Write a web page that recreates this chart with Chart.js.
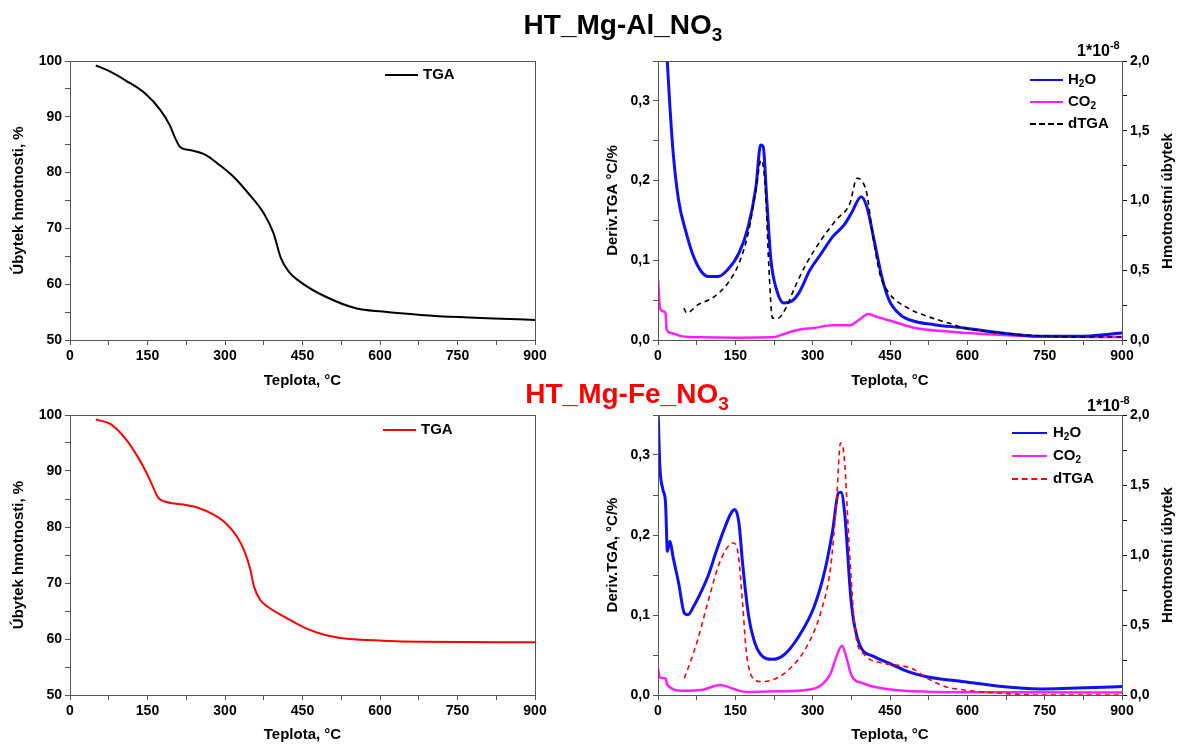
<!DOCTYPE html>
<html>
<head>
<meta charset="utf-8">
<script src="https://cdn.jsdelivr.net/npm/chart.js@4.4.0/dist/chart.umd.min.js"></script>
<style>
  body { margin: 0; background: #fff; width: 1178px; height: 744px; position: relative; overflow: hidden;
         font-family: "Liberation Sans", Arial, sans-serif; color: #000; }
  .pane { position: absolute; }
  .title { position: absolute; font-weight: bold; font-size: 28px; white-space: nowrap; transform: translate(-50%, -50%); z-index: 2; }
  .title sub { font-size: 19px; vertical-align: -7px; }
  .leg { position: absolute; font-weight: bold; font-size: 15px; white-space: nowrap; z-index: 2; }
  .leg .row { position: absolute; left: 0; height: 22px; width: 120px; }
  .leg .ln { position: absolute; top: 10px; height: 0; }
  .leg .tx { position: absolute; top: 1px; }
  .leg sub { font-size: 10px; vertical-align: -3px; }
  .mult { position: absolute; font-weight: bold; font-size: 16px; white-space: nowrap; z-index: 2; }
  .mult sup { font-size: 11px; vertical-align: 7px; }
  .rtitle { position: absolute; font-weight: bold; font-size: 15px; white-space: nowrap; z-index: 2;
            transform: translate(-50%, -50%) rotate(-90deg); }
</style>
</head>
<body>

<div class="title" style="left:623px; top:27px;">HT_Mg-Al_NO<sub>3</sub></div>
<div class="title" style="left:627px; top:396px; color:#ff0000;">HT_Mg-Fe_NO<sub>3</sub></div>
<div class="mult" style="left:1077px; top:39px;">1*10<sup>-8</sup></div>
<div class="mult" style="left:1087px; top:394px;">1*10<sup>-8</sup></div>
<div class="rtitle" style="left:1166px; top:201px;">Hmotnostní úbytek</div>
<div class="rtitle" style="left:1166px; top:555px;">Hmotnostní úbytek</div>

<div class="pane" style="left:0; top:40px;"><canvas id="tgaAl" width="590" height="350"></canvas></div>
<div class="pane" style="left:590px; top:40px;"><canvas id="msAl" width="588" height="350"></canvas></div>
<div class="pane" style="left:0; top:394px;"><canvas id="tgaFe" width="590" height="350"></canvas></div>
<div class="pane" style="left:590px; top:394px;"><canvas id="msFe" width="588" height="350"></canvas></div>

<div class="leg" id="legTgaAl" style="left:385px; top:64px;"></div>
<div class="leg" id="legMsAl" style="left:1030px; top:69px;"></div>
<div class="leg" id="legTgaFe" style="left:383px; top:419px;"></div>
<div class="leg" id="legMsFe" style="left:1012px; top:422px;"></div>

<script>
// ---- Mg-Al : TGA mass curve (%)
const tAlTga = [50, 78, 108, 145, 175, 193, 204, 213, 234, 264, 286, 316, 345, 375, 394, 408, 423, 449, 494, 553, 605, 679, 754, 900];
const mAlTga = [99.2, 98.1, 96.5, 94.2, 91.2, 88.5, 86.1, 84.6, 84.0, 83.1, 81.6, 79.3, 76.3, 72.7, 69.1, 64.7, 62.3, 60.2, 57.8, 55.7, 55.1, 54.5, 54.1, 53.6];

// ---- Mg-Al : MS signals (1e-8) and dTGA (°C/%)
const tAlH2O = [15, 18, 22, 29, 40, 55, 69, 84, 98, 117, 135, 157, 175, 190, 199, 204, 211, 219, 230, 244, 259, 273, 295, 317, 339, 361, 375, 394, 405, 419, 434, 448, 470, 499, 536, 594, 667, 740, 813, 900];
const vAlH2O = [2.2, 2.0, 1.74, 1.36, 1.0, 0.765, 0.598, 0.491, 0.455, 0.455, 0.503, 0.622, 0.813, 1.099, 1.397, 1.385, 1.004, 0.574, 0.36, 0.265, 0.277, 0.336, 0.503, 0.622, 0.741, 0.825, 0.908, 1.027, 0.956, 0.718, 0.455, 0.288, 0.181, 0.133, 0.11, 0.086, 0.05, 0.026, 0.026, 0.05];
const tAlCO2 = [0.5, 3.6, 11, 14.6, 16.8, 25.5, 47, 84, 157, 222, 244, 273, 302, 339, 372, 390, 408, 426, 456, 499, 558, 630, 740, 900];
const vAlCO2 = [0.43, 0.229, 0.205, 0.193, 0.074, 0.05, 0.026, 0.019, 0.017, 0.019, 0.043, 0.074, 0.086, 0.105, 0.105, 0.145, 0.186, 0.164, 0.133, 0.086, 0.062, 0.043, 0.026, 0.021];
const tAlDtg = [50, 56, 77, 106, 135, 157, 175, 190, 200, 208, 215, 222, 233, 248, 266, 288, 317, 346, 372, 386, 396, 405, 416, 430, 448, 485, 521, 565, 594, 667, 740, 813, 900];
const vAlDtg = [0.040, 0.034, 0.044, 0.053, 0.071, 0.096, 0.134, 0.188, 0.226, 0.192, 0.092, 0.0275, 0.0275, 0.040, 0.067, 0.096, 0.126, 0.151, 0.171, 0.203, 0.199, 0.184, 0.134, 0.084, 0.059, 0.040, 0.030, 0.021, 0.015, 0.0088, 0.0054, 0.0038, 0.0038];

// ---- Mg-Fe : TGA mass curve (%)
const tFeTga = [50, 78, 108, 130, 148, 160, 171, 182, 219, 249, 278, 301, 323, 338, 349, 356, 368, 382, 420, 457, 494, 531, 605, 679, 900];
const mFeTga = [99.2, 98.4, 95.7, 92.7, 89.7, 87.3, 85.2, 84.6, 84.0, 83.4, 82.2, 80.7, 78.3, 75.6, 72.4, 69.4, 67.0, 65.8, 63.7, 61.9, 60.7, 60.1, 59.7, 59.5, 59.4];

// ---- Mg-Fe : MS signals (1e-8) and dTGA (°C/%)
const tFeH2O = [0, 3.6, 9.5, 14.6, 18.2, 23.3, 29, 40, 51, 58, 69, 84, 98, 113, 128, 142, 149, 157, 164, 175, 186, 200, 222, 244, 273, 303, 324, 339, 350, 355, 362, 375, 390, 419, 448, 485, 521, 594, 667, 740, 900];
const vFeH2O = [2.05, 1.635, 1.468, 1.372, 1.026, 1.098, 0.99, 0.8, 0.585, 0.573, 0.632, 0.74, 0.859, 1.026, 1.181, 1.301, 1.325, 1.229, 0.943, 0.585, 0.394, 0.286, 0.255, 0.286, 0.418, 0.632, 0.895, 1.181, 1.444, 1.449, 1.301, 0.656, 0.37, 0.274, 0.227, 0.167, 0.131, 0.095, 0.06, 0.043, 0.06];
const tFeCO2 = [0, 3.6, 14.6, 18, 47, 84, 120, 149, 171, 230, 288, 317, 335, 346, 357, 365, 375, 397, 448, 521, 667, 900];
const vFeCO2 = [0.191, 0.126, 0.119, 0.072, 0.031, 0.036, 0.072, 0.041, 0.021, 0.026, 0.036, 0.072, 0.155, 0.274, 0.351, 0.274, 0.143, 0.084, 0.041, 0.024, 0.019, 0.017];
const tFeDtg = [51, 62, 77, 98, 117, 131, 146, 155, 164, 171, 182, 200, 230, 259, 288, 317, 335, 346, 354, 361, 372, 383, 401, 434, 463, 493, 522, 558, 594, 667, 740, 900];
const vFeDtg = [0.021, 0.040, 0.069, 0.119, 0.161, 0.181, 0.190, 0.179, 0.115, 0.056, 0.023, 0.0167, 0.021, 0.035, 0.060, 0.106, 0.161, 0.240, 0.315, 0.298, 0.173, 0.077, 0.050, 0.040, 0.0375, 0.033, 0.021, 0.0104, 0.0063, 0.0021, 0, 0];

const FONT = '"Liberation Sans", Arial, sans-serif';
const tickFont = { family: FONT, size: 14, weight: 'bold' };
const axisFont = { family: FONT, size: 15, weight: 'bold' };
const AXIS = '#555';

const pts = (xs, ys) => xs.map((x, i) => ({ x: x, y: ys[i] }));
const comma = v => v.toFixed(1).replace('.', ',');

// frame round the plot area (top + right edges)
const framePlugin = {
  id: 'frame',
  afterDraw(chart) {
    const a = chart.chartArea, c = chart.ctx;
    c.save();
    c.strokeStyle = AXIS;
    c.lineWidth = 1;
    c.strokeRect(a.left + 0.5, a.top + 0.5, a.right - a.left, a.bottom - a.top);
    c.restore();
  }
};

function xScale(h) {
  return {
    type: 'linear', min: 0, max: 900,
    ticks: { stepSize: 75, autoSkip: false, maxRotation: 0, color: '#000', font: tickFont, padding: 3,
             callback: v => (v % 150 === 0 ? v : '') },
    grid: { drawOnChartArea: false, tickLength: 5, tickColor: AXIS },
    border: { color: AXIS },
    title: { display: true, text: 'Teplota, °C', color: '#000', font: axisFont, padding: { top: 2, bottom: 0 } },
    afterFit: s => { s.height = h; }
  };
}

function tgaChart(id, temps, mass, color, xh) {
  return new Chart(document.getElementById(id), {
    type: 'line',
    data: { datasets: [{ label: 'TGA', data: pts(temps, mass), borderColor: color, borderWidth: 2,
                         pointRadius: 0, cubicInterpolationMode: 'monotone' }] },
    options: {
      responsive: false, animation: false, parsing: false,
      layout: { padding: { top: 21, right: 55, left: 0, bottom: 0 } },
      plugins: { legend: { display: false }, tooltip: { enabled: false } },
      scales: {
        x: xScale(xh),
        y: {
          min: 50, max: 100,
          ticks: { stepSize: 5, color: '#000', font: tickFont, padding: 3,
                   callback: v => (v % 10 === 0 ? v : '') },
          grid: { drawOnChartArea: false, tickLength: 5, tickColor: AXIS },
          border: { color: AXIS },
          title: { display: true, text: 'Úbytek hmotnosti, %', color: '#000', font: axisFont, padding: { top: 10, bottom: 0 } },
          afterFit: s => { s.width = 70; }
        }
      }
    },
    plugins: [framePlugin]
  });
}

function msChart(id, h2o, co2, dtg, dtgColor, yTitle, xh) {
  return new Chart(document.getElementById(id), {
    type: 'line',
    data: {
      datasets: [
        { label: 'dTGA', data: dtg, yAxisID: 'y', borderColor: dtgColor, borderWidth: 1.6, borderDash: [5, 4],
          pointRadius: 0, cubicInterpolationMode: 'monotone', order: 0 },
        { label: 'H2O', data: h2o, yAxisID: 'y2', borderColor: '#1010f0', borderWidth: 3,
          pointRadius: 0, cubicInterpolationMode: 'monotone', order: 1 },
        { label: 'CO2', data: co2, yAxisID: 'y2', borderColor: '#ff20ff', borderWidth: 2.5,
          pointRadius: 0, cubicInterpolationMode: 'monotone', order: 2 }
      ]
    },
    options: {
      responsive: false, animation: false, parsing: false,
      layout: { padding: { top: 21, right: 0, left: 0, bottom: 0 } },
      plugins: { legend: { display: false }, tooltip: { enabled: false } },
      scales: {
        x: xScale(xh),
        y: {
          position: 'left', min: 0, max: 0.35,
          ticks: { stepSize: 0.05, color: '#000', font: tickFont, padding: 3,
                   callback: v => (Math.round(v * 20) % 2 === 0 ? comma(v) : '') },
          grid: { drawOnChartArea: false, tickLength: 5, tickColor: AXIS },
          border: { color: '#000' },
          title: { display: true, text: yTitle, color: '#000', font: axisFont, padding: { top: 14, bottom: 0 } },
          afterFit: s => { s.width = 68; }
        },
        // right axis title is drawn as an upright-reading label outside the canvas
        y2: {
          position: 'right', min: 0, max: 2,
          ticks: { stepSize: 0.25, color: '#000', font: tickFont, padding: 3,
                   callback: v => (Math.round(v * 4) % 2 === 0 ? comma(v) : '') },
          grid: { drawOnChartArea: false, tickLength: 5, tickColor: '#000' },
          border: { color: '#000' },
          title: { display: false },
          afterFit: s => { s.width = 56; }
        }
      }
    },
    plugins: [framePlugin]
  });
}

// legend boxes built from the chart datasets
const legendNames = { 'TGA': 'TGA', 'H2O': 'H<sub>2</sub>O', 'CO2': 'CO<sub>2</sub>', 'dTGA': 'dTGA' };
function buildLegend(elId, chart, order, lineW, gap, rowH) {
  const el = document.getElementById(elId);
  order.forEach((name, i) => {
    const ds = chart.data.datasets.find(d => d.label === name);
    const row = document.createElement('div');
    row.className = 'row';
    row.style.top = (i * rowH) + 'px';
    const style = ds.borderDash ? 'dashed' : 'solid';
    row.innerHTML = '<div class="ln" style="width:' + lineW + 'px;border-top:2px ' + style + ' ' + ds.borderColor + '"></div>' +
                    '<div class="tx" style="left:' + (lineW + gap) + 'px">' + legendNames[name] + '</div>';
    el.appendChild(row);
  });
}

const c1 = tgaChart('tgaAl', tAlTga, mAlTga, '#000000', 50);
const c2 = msChart('msAl', pts(tAlH2O, vAlH2O), pts(tAlCO2, vAlCO2), pts(tAlDtg, vAlDtg), '#000000', 'Deriv.TGA °C/%', 50);
const c3 = tgaChart('tgaFe', tFeTga, mFeTga, '#ff0000', 49);
const c4 = msChart('msFe', pts(tFeH2O, vFeH2O), pts(tFeCO2, vFeCO2), pts(tFeDtg, vFeDtg), '#ff0000', 'Deriv.TGA, °C/%', 49);

buildLegend('legTgaAl', c1, ['TGA'], 33, 5, 22);
buildLegend('legMsAl', c2, ['H2O', 'CO2', 'dTGA'], 33, 5, 22);
buildLegend('legTgaFe', c3, ['TGA'], 33, 5, 22);
buildLegend('legMsFe', c4, ['H2O', 'CO2', 'dTGA'], 35, 6, 23);
</script>
</body>
</html>
